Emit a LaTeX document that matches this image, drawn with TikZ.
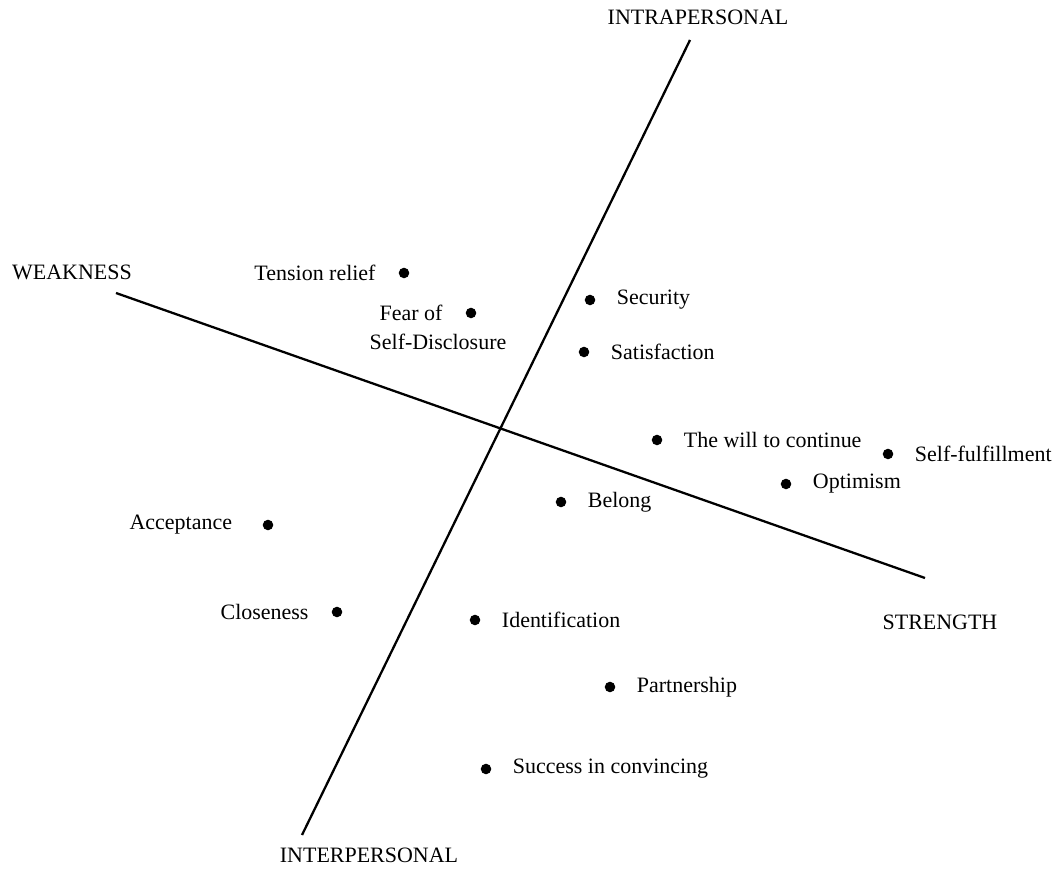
\documentclass[tikz,border=0pt]{standalone}
\usepackage{fontspec}
\setmainfont{Liberation Serif}
\usetikzlibrary{positioning}
\tikzset{%
    datum/.style={circle, fill=black, inner sep=0pt, minimum size=6pt},
    lbl/.style={inner sep=0pt, font=\fontsize{12.5}{15}\selectfont},
    axislbl/.style={inner sep=0pt, font=\fontsize{12.5}{15}\selectfont},
    axisline/.style={line width=1.3pt}
}

\begin{document}
\begin{tikzpicture}[x=0.02cm, y=-0.02cm, node distance=0.42cm]

    \useasboundingbox (0, 0) rectangle (1059, 878);

    % Axes
    \coordinate (intra-end) at (690, 40);
    \coordinate (inter-end) at (302, 835);
    \coordinate (weak-end) at (116, 293);
    \coordinate (strong-end) at (925, 578);

    \draw[axisline] (inter-end) -- (intra-end);
    \draw[axisline] (weak-end) -- (strong-end);

    \node[axislbl] (intra) at (698, 17) {INTRAPERSONAL};
    \node[axislbl] (inter) at (369, 855) {INTERPERSONAL};
    \node[axislbl] (weak) at (72, 272) {WEAKNESS};
    \node[axislbl] (strong) at (940, 622) {STRENGTH};

    % Points, labels on the left
    \node[datum] (tension) at (404, 273) {};
    \node[lbl, left=0.45cm of tension] {Tension relief};

    \node[datum] (fear) at (471, 313) {};
    \node[lbl, left=0.45cm of fear] (fear-lbl) {Fear of};
    \node[lbl] (disclosure) at (438, 342) {Self-Disclosure};

    \node[datum] (acceptance) at (268, 525) {};
    \node[lbl, left=0.6cm of acceptance] {Acceptance};

    \node[datum] (closeness) at (337, 612) {};
    \node[lbl, left=0.45cm of closeness] {Closeness};

    % Points, labels on the right
    \node[datum] (security) at (590, 300) {};
    \node[lbl, right=of security] {Security};

    \node[datum] (satisfaction) at (584, 352) {};
    \node[lbl, right=of satisfaction] {Satisfaction};

    \node[datum] (will) at (657, 440) {};
    \node[lbl, right=of will] {The will to continue};

    \node[datum] (fulfil) at (888, 454) {};
    \node[lbl, right=of fulfil] {Self-fulfillment};

    \node[datum] (optimism) at (786, 484) {};
    \node[lbl, right=of optimism] {Optimism};

    \node[datum] (belong) at (561, 502) {};
    \node[lbl, right=of belong] {Belong};

    \node[datum] (identification) at (475, 620) {};
    \node[lbl, right=of identification] {Identification};

    \node[datum] (partnership) at (610, 687) {};
    \node[lbl, right=of partnership] {Partnership};

    \node[datum] (convincing) at (486, 769) {};
    \node[lbl, right=of convincing] {Success in convincing};

\end{tikzpicture}
\end{document}
